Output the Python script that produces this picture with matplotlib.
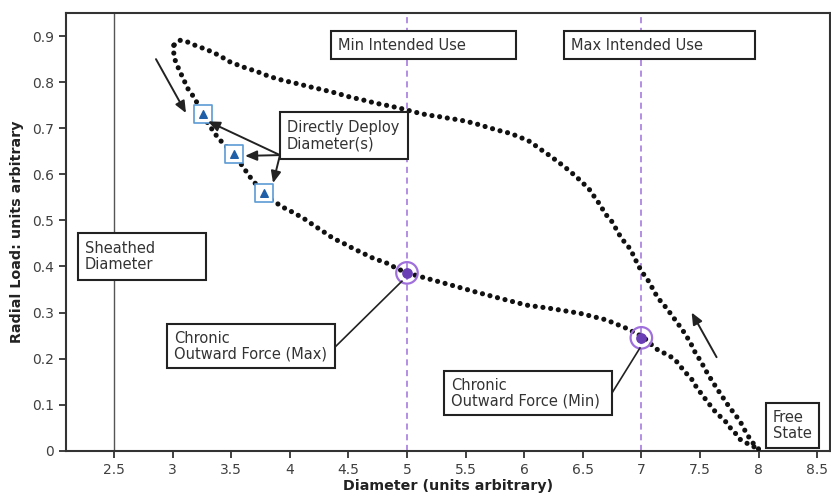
import numpy as np
import matplotlib.pyplot as plt
from matplotlib.patches import Rectangle

# crimp (loading) branch: from free state up to the sheathed peak
crimp_d = [8.00, 7.94, 7.89, 7.84, 7.75, 7.70, 7.65, 7.60, 7.55, 7.51, 7.46, 7.42, 7.37,
           7.32, 7.26, 7.21, 7.15, 7.11, 7.07, 7.02, 6.97, 6.94, 6.89, 6.83, 6.79, 6.75,
           6.69, 6.65, 6.60, 6.56, 6.49, 6.43, 6.36, 6.29, 6.21, 6.13, 6.05, 5.96, 5.88,
           5.77, 5.65, 5.57, 5.45, 5.37, 5.28, 5.17, 5.05, 4.98, 4.86, 4.74, 4.63, 4.51,
           4.40, 4.29, 4.17, 4.06, 3.94, 3.83, 3.72, 3.60, 3.49, 3.39, 3.29, 3.21, 3.12,
           3.06, 3.01]
crimp_load = [0.004, 0.020, 0.041, 0.065, 0.095, 0.114, 0.133, 0.153, 0.174, 0.193, 0.213,
              0.234, 0.255, 0.273, 0.294, 0.311, 0.329, 0.345, 0.365, 0.383, 0.403, 0.421,
              0.443, 0.461, 0.479, 0.497, 0.515, 0.533, 0.551, 0.566, 0.584, 0.598, 0.613,
              0.627, 0.642, 0.656, 0.671, 0.681, 0.689, 0.696, 0.705, 0.711, 0.718, 0.721,
              0.725, 0.729, 0.736, 0.741, 0.748, 0.754, 0.761, 0.768, 0.776, 0.783, 0.790,
              0.797, 0.804, 0.812, 0.823, 0.833, 0.844, 0.859, 0.871, 0.878, 0.888, 0.891,
              0.880]

# expansion (unloading) branch: from the peak back to free state
expand_d = [3.01, 3.01, 3.05, 3.09, 3.13, 3.18, 3.22, 3.26, 3.30, 3.39, 3.46, 3.52, 3.56,
            3.62, 3.67, 3.73, 3.78, 3.82, 3.89, 3.96, 4.03, 4.12, 4.20, 4.29, 4.37, 4.46,
            4.54, 4.63, 4.71, 4.83, 4.91, 5.00, 5.17, 5.37, 5.58, 5.79, 6.02, 6.22, 6.48,
            6.70, 6.87, 7.02, 7.12, 7.17, 7.24, 7.29, 7.33, 7.38, 7.43, 7.47, 7.52, 7.58,
            7.63, 7.69, 7.74, 7.77, 7.81, 7.84, 7.93, 8.00]
expand_load = [0.880, 0.855, 0.830, 0.808, 0.786, 0.768, 0.750, 0.729, 0.711, 0.678, 0.660,
               0.643, 0.631, 0.609, 0.591, 0.573, 0.560, 0.548, 0.537, 0.526, 0.517, 0.504,
               0.490, 0.475, 0.461, 0.450, 0.439, 0.428, 0.418, 0.407, 0.396, 0.386, 0.374,
               0.360, 0.345, 0.331, 0.316, 0.309, 0.298, 0.284, 0.266, 0.246, 0.222, 0.215,
               0.206, 0.197, 0.184, 0.169, 0.155, 0.138, 0.121, 0.101, 0.085, 0.070, 0.058,
               0.045, 0.036, 0.025, 0.012, 0.004]

deploy_d = [3.26, 3.52, 3.78]
deploy_load = [0.730, 0.643, 0.560]
cof_d = [5.0, 7.0]
cof_load = [0.386, 0.245]

xticks = [2.5, 3, 3.5, 4, 4.5, 5, 5.5, 6, 6.5, 7, 7.5, 8, 8.5]
xticklabels = ["2.5", "3", "3.5", "4", "4.5", "5", "5.5", "6", "6.5", "7", "7.5", "8", "8.5"]
yticks = [0, 0.1, 0.2, 0.3, 0.4, 0.5, 0.6, 0.7, 0.8, 0.9]
yticklabels = ["0", "0.1", "0.2", "0.3", "0.4", "0.5", "0.6", "0.7", "0.8", "0.9"]

txt = "#333333"
purple = "#9f70dc"

fig = plt.figure(figsize=(8.31, 4.99), dpi=100)
ax = fig.add_axes([0.0794, 0.0968, 0.9194, 0.877])
ax.set_xlim(2.09, 8.61)
ax.set_ylim(0, 0.95)

# reference lines
ax.axvline(2.5, color="#555555", lw=1.0, zorder=1)
for xv in cof_d:
    ax.axvline(xv, color=purple, lw=1.1, ls=(0, (4, 3)), zorder=1)

# dotted curves
dot = dict(color="#111111", lw=3.7, ls=(0, (0.01, 1.5)), dash_capstyle="round", zorder=3)
ax.plot(crimp_d, crimp_load, **dot)
ax.plot(expand_d, expand_load, **dot)

# highlighted points
ax.scatter(deploy_d, deploy_load, marker="s", s=150, facecolors="white",
           edgecolors="#5b9bd5", linewidths=1.2, zorder=4)
ax.scatter(deploy_d, deploy_load, marker="^", s=30, color="#1f5fa8", zorder=5)
ax.scatter(cof_d, cof_load, marker="o", s=240, facecolors="none",
           edgecolors=purple, linewidths=1.6, zorder=4)
ax.scatter(cof_d, cof_load, marker="o", s=45, color="#6a3fb5", zorder=5)


def box(x0, x1, y0, y1, tx, ty, s):
    ax.add_patch(Rectangle((x0, y0), x1 - x0, y1 - y0, facecolor="white",
                           edgecolor="#222222", lw=1.5, zorder=6))
    ax.text(tx, ty, s, ha="left", va="center", fontsize=10.5, color=txt,
            linespacing=1.1, zorder=7)


box(4.352, 5.930, 0.850, 0.911, 4.41, 0.880, "Min Intended Use")
box(6.340, 7.969, 0.850, 0.911, 6.40, 0.880, "Max Intended Use")
box(3.916, 5.009, 0.633, 0.735, 3.976, 0.684, "Directly Deploy\nDiameter(s)")
box(2.193, 3.285, 0.370, 0.472, 2.253, 0.421, "Sheathed\nDiameter")
box(2.952, 4.386, 0.180, 0.275, 3.012, 0.227, "Chronic\nOutward Force (Max)")
box(5.316, 6.749, 0.077, 0.173, 5.376, 0.125, "Chronic\nOutward Force (Min)")
box(8.063, 8.515, 0.006, 0.1035, 8.12, 0.055, "Free\nState")

# leader lines
ax.plot([4.386, 4.957], [0.225, 0.368], color="#222222", lw=1.2, zorder=5)
ax.plot([6.749, 6.988], [0.125, 0.223], color="#222222", lw=1.2, zorder=5)

arw = dict(arrowstyle="-|>,head_length=0.7,head_width=0.3", color="#222222", lw=1.4,
           shrinkA=0, shrinkB=0)
for tip in [(3.302, 0.715), (3.618, 0.640), (3.857, 0.581)]:
    ax.annotate("", xy=tip, xytext=(3.916, 0.6417), arrowprops=arw, zorder=5)
ax.annotate("", xy=(3.114, 0.733), xytext=(2.858, 0.850), arrowprops=arw)
ax.annotate("", xy=(7.429, 0.300), xytext=(7.642, 0.203), arrowprops=arw)

ax.set_xticks(xticks)
ax.set_xticklabels(xticklabels)
ax.set_yticks(yticks)
ax.set_yticklabels(yticklabels)
ax.tick_params(direction="out", length=5, width=1.3, color="#333333",
               labelsize=10, labelcolor="#404040")
for sp in ax.spines.values():
    sp.set_color("#333333")
    sp.set_linewidth(1.5)

ax.set_xlabel("Diameter (units arbitrary)", fontsize=10.3, fontweight="bold",
              color="#222222", labelpad=2)
ax.set_ylabel("Radial Load: units arbitrary", fontsize=10.3, fontweight="bold",
              color="#222222", labelpad=6)

fig.savefig("out.png", dpi=100)
